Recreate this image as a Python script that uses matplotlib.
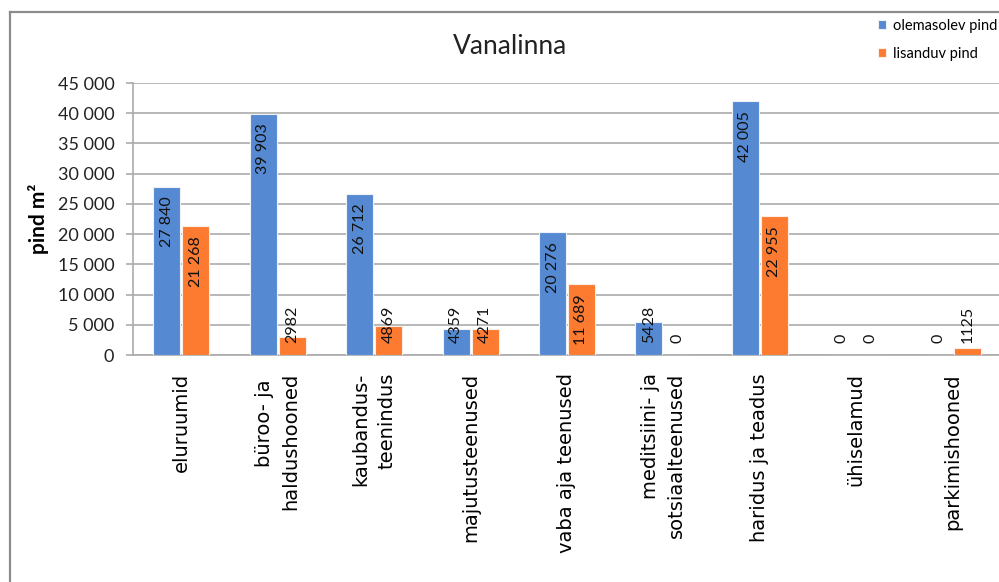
import numpy as np
import matplotlib
matplotlib.use("Agg")
import matplotlib.pyplot as plt
from matplotlib.lines import Line2D
from matplotlib.ticker import FuncFormatter

categories = ["eluruumid", "büroo- ja \nhaldushooned", "kaubandus-\nteenindus",
              "majutusteenused", "vaba aja teenused", "meditsiini- ja\nsotsiaalteenused",
              "haridus ja teadus", "ühiselamud", "parkimishooned"]
olemasolev = [27840, 39903, 26712, 4359, 20276, 5428, 42005, 0, 0]
lisanduv = [21268, 2982, 4869, 4271, 11689, 0, 22955, 0, 1125]
yticks = [0, 5000, 10000, 15000, 20000, 25000, 30000, 35000, 40000, 45000]

blue = "#558ad3"
orange = "#fd7a31"
grid_c = "#ababab"

plt.rcParams['font.family'] = ['Lato', 'DejaVu Sans']

fig = plt.figure(figsize=(9.99, 5.82), dpi=100)
ax = fig.add_axes([133 / 999, 1 - 355 / 582, 868 / 999, 272 / 582])

x = np.arange(len(categories))
w = 0.28
gap = 0.01
b1 = ax.bar(x - w / 2 - gap, olemasolev, w, color=blue, edgecolor="#eef2f8", linewidth=0.8,
            label="olemasolev pind", zorder=3)
b2 = ax.bar(x + w / 2 + gap, lisanduv, w, color=orange, edgecolor="#fbeee6", linewidth=0.8,
            label="lisanduv pind", zorder=3)


def fmt_label(v):
    return f"{v:,}".replace(",", " ") if v >= 10000 else str(v)


for bars, vals in ((b1, olemasolev), (b2, lisanduv)):
    for rect, v in zip(bars, vals):
        cx = rect.get_x() + rect.get_width() / 2
        if v > 9000:
            ax.annotate(fmt_label(v), (cx, v), xytext=(0, -7), textcoords="offset points",
                        rotation=90, ha="center", va="top", fontsize=11.5, color="#111111", zorder=4)
        else:
            ax.annotate(fmt_label(v), (cx, 0), xytext=(0, 8.6), textcoords="offset points",
                        rotation=90, ha="center", va="bottom", fontsize=11.5, color="#111111", zorder=4)

ax.set_xlim(-0.5, len(categories) - 0.5)
ax.set_ylim(0, 45000)
ax.set_yticks(yticks)
ax.yaxis.set_major_formatter(FuncFormatter(lambda v, p: f"{int(v):,}".replace(",", " ")))
ax.tick_params(axis="y", labelsize=13, length=5, color=grid_c, width=1.2, pad=8.5, labelcolor="#222222")
ax.set_xticks(x)
ax.set_xticklabels(categories, rotation=90, fontsize=14,
                   multialignment="right", linespacing=1.5)
for lbl in ax.get_xticklabels():
    lbl.set_fontfamily("DejaVu Sans")
ax.tick_params(axis="x", length=0, pad=13)
ax.grid(axis="y", color=grid_c, linewidth=1.2, zorder=0)
for s in ["top", "right"]:
    ax.spines[s].set_visible(False)
ax.spines["left"].set_color(grid_c)
ax.spines["bottom"].set_color(grid_c)
ax.spines["left"].set_linewidth(1.2)
ax.spines["bottom"].set_linewidth(1.2)

ax.set_ylabel("pind m²", fontsize=15, fontweight="bold", labelpad=6)

fig.text(510 / 999, 1 - 47 / 582, "Vanalinna", fontsize=19, ha="center", va="center", color="#222222")

fig.legend(loc="upper left", bbox_to_anchor=(878 / 999, 1 - 19 / 582), frameon=False,
           fontsize=10.5, handlelength=0.55, handleheight=0.55, handletextpad=0.45,
           labelspacing=0.95, borderaxespad=0, borderpad=0)

# chart frame
fig.add_artist(Line2D([10 / 999, 10 / 999], [0, 1 - 12 / 582], color="#8c8c8c", lw=1.6,
                      transform=fig.transFigure))
fig.add_artist(Line2D([10 / 999, 1], [1 - 12 / 582, 1 - 12 / 582], color="#8c8c8c", lw=1.6,
                      transform=fig.transFigure))

fig.savefig("out.png", dpi=100)
